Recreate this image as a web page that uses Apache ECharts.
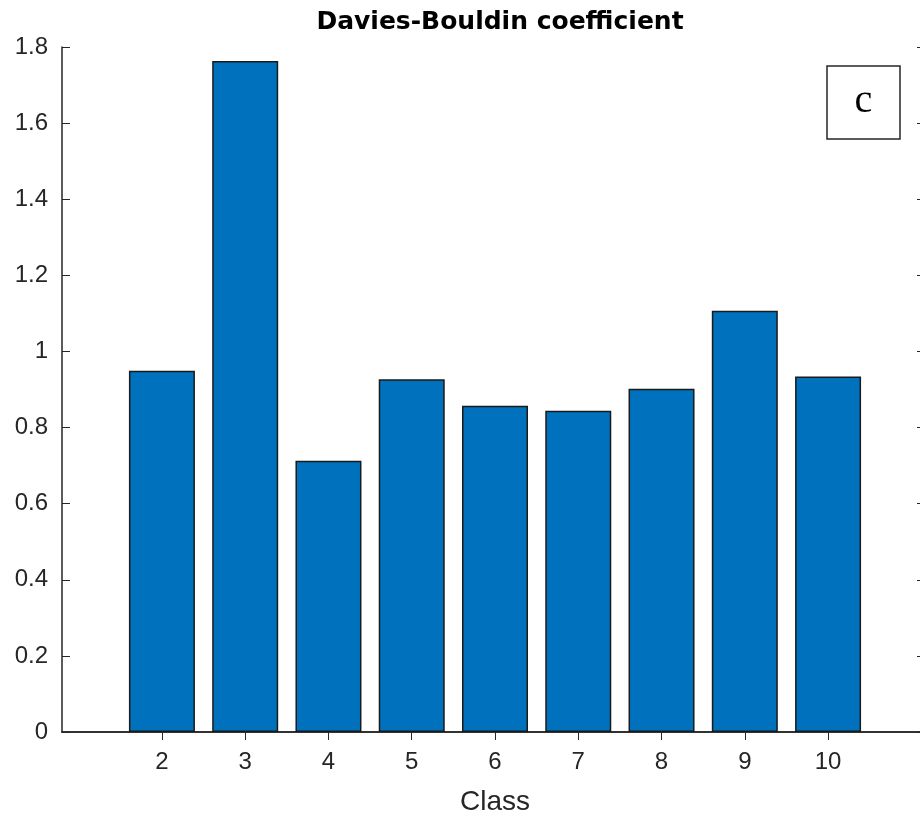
<!DOCTYPE html>
<html>
<head>
<meta charset="utf-8">
<script src="https://cdn.jsdelivr.net/npm/echarts@6/dist/echarts.min.js"></script>
<style>
  html, body { margin: 0; padding: 0; background: #fff; }
  #main { width: 920px; height: 816px; }
</style>
</head>
<body>
<div id="main"></div>
<script>
var classes = [2, 3, 4, 5, 6, 7, 8, 9, 10];
var dbValues = [0.949, 1.763, 0.713, 0.927, 0.857, 0.844, 0.902, 1.107, 0.934];
var yTicks = [0, 0.2, 0.4, 0.6, 0.8, 1, 1.2, 1.4, 1.6, 1.8];

var font = "'Liberation Sans', Arial, Helvetica, sans-serif";
var axisCol = '#262626';

var myChart = echarts.init(document.getElementById('main'));

var barData = classes.map(function (c, i) { return [c, dbValues[i]]; });

// matlab style box: ticks on all four sides, pointing in
function boxAxis(pos, extra) {
    var a = {
        type: 'value',
        position: pos,
        axisLine: { show: true, lineStyle: { color: axisCol, width: 1.5 } },
        axisTick: { show: true, inside: true, length: 8, lineStyle: { color: axisCol } },
        axisLabel: { show: false },
        splitLine: { show: false }
    };
    return Object.assign(a, extra);
}

myChart.setOption({
    animation: false,
    title: {
        text: 'Davies-Bouldin coefficient',
        left: 495,
        top: 5,
        textAlign: 'center',
        textStyle: { fontFamily: "'DejaVu Sans', sans-serif", fontSize: 25, fontWeight: 'bold', color: '#000' }
    },
    grid: { left: 62, top: 47, width: 866, bottom: 84, outerBoundsMode: 'none', containLabel: false },
    xAxis: [
        boxAxis('bottom', {
            min: 0.8, max: 11.2,
            name: 'Class',
            nameLocation: 'middle',
            nameGap: 56,
            nameTextStyle: { fontFamily: font, fontSize: 28, color: axisCol },
            axisTick: { show: true, inside: true, length: 8, customValues: classes, lineStyle: { color: axisCol } },
            axisLabel: { show: true, customValues: classes, margin: 18, fontFamily: font, fontSize: 24, color: axisCol }
        }),
        boxAxis('top', {
            min: 0.8, max: 11.2,
            axisTick: { show: true, inside: true, length: 8, customValues: classes, lineStyle: { color: axisCol } }
        })
    ],
    yAxis: [
        boxAxis('left', {
            min: 0, max: 1.8, interval: 0.2,
            axisLabel: { show: true, customValues: yTicks, margin: 14, fontFamily: font, fontSize: 24, color: axisCol }
        }),
        boxAxis('right', {
            min: 0, max: 1.8, interval: 0.2,
            axisTick: { show: true, inside: true, length: 11, lineStyle: { color: axisCol } }
        })
    ],
    series: [{
        type: 'bar',
        xAxisIndex: 0,
        yAxisIndex: 0,
        barWidth: 66,
        data: barData,
        itemStyle: { color: '#0072BD', borderColor: '#1a1a1a', borderWidth: 1.5 },
        z: 1
    }],
    graphic: [{
        type: 'rect',
        shape: { x: 827, y: 66, width: 73, height: 73 },
        style: { fill: '#fff', stroke: '#262626', lineWidth: 1.5 }
    }, {
        type: 'text',
        x: 863.5,
        y: 101,
        style: {
            text: 'c',
            fontFamily: "'Liberation Serif', 'Times New Roman', serif",
            fontSize: 40,
            fill: '#000',
            align: 'center',
            verticalAlign: 'middle'
        }
    }]
});
</script>
</body>
</html>
